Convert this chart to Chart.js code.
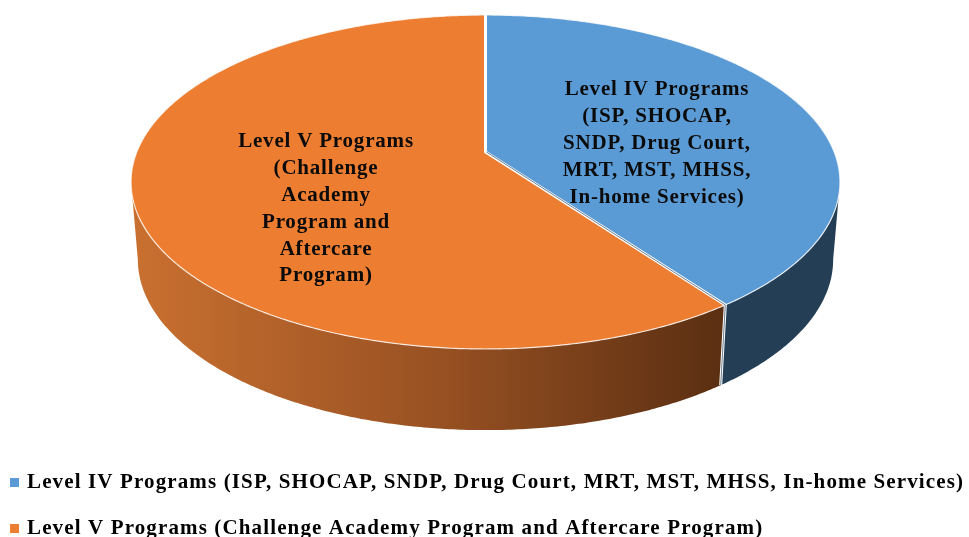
<!DOCTYPE html>
<html>
<head>
<meta charset="utf-8">
<style>html,body{margin:0;padding:0;background:#fff;overflow:hidden}canvas{display:block}</style>
<script src="https://cdn.jsdelivr.net/npm/chart.js@4"></script>
</head>
<body>
<canvas id="c" width="969" height="537"></canvas>
<script>
const categories = [
  "Level IV Programs (ISP, SHOCAP, SNDP, Drug Court, MRT, MST, MHSS, In-home Services)",
  "Level V Programs (Challenge Academy Program and Aftercare Program)"
];
const shares = [40, 60];
const sliceColors = ["#5B9BD5", "#ED7D31"];
const sliceLabels = [
  ["Level IV Programs", "(ISP, SHOCAP,", "SNDP, Drug Court,", "MRT, MST, MHSS,", "In-home Services)"],
  ["Level V Programs", "(Challenge", "Academy", "Program and", "Aftercare", "Program)"]
];

const TOP = {cx: 485.5, cy: 152, rx: 348.7, ry: 161.6};
const BOT = {cx: 485.5, cy: 229, rx: 342, ry: 165};
const K = 0.1796;
const project = (f, a) => {
  const u = Math.cos(a), v = Math.sin(a), w = 1 - K * v;
  return [f.cx + f.rx * u / w, f.cy + f.ry * v / w];
};
const LEGEND_SPACING = '1.13px';
const SIDE = Math.asin(K);

const pie3d = {
  id: 'pie3d',
  beforeLayout(chart) { chart.ctx.letterSpacing = LEGEND_SPACING; },
  beforeDraw(chart) { chart.ctx.letterSpacing = LEGEND_SPACING; },
  afterLayout(chart) {
    const lg = chart.legend;
    const h = lg.bottom - lg.top;
    lg.top = 447; lg.bottom = lg.top + h;
    lg.left -= 12.5;
  },
  beforeDatasetsDraw(chart) {
    const ctx = chart.ctx;
    const arcs = chart.getDatasetMeta(0).data;
    const step = Math.PI / 360;
    // side walls: only the arc facing the viewer, so the outline never folds
    arcs.forEach((arc, i) => {
      let paint;
      if (i === 0) paint = '#243F55';
      else {
        paint = ctx.createLinearGradient(135, 0, 722, 0);
        paint.addColorStop(0, '#C97030');
        paint.addColorStop(0.5, '#9A5223');
        paint.addColorStop(1, '#5B2F12');
      }
      const from = Math.max(arc.startAngle, SIDE);
      const to = Math.min(arc.endAngle, Math.PI - SIDE);
      ctx.fillStyle = paint;
      ctx.beginPath();
      const lower = [];
      for (let a = from; a < to; a += step) {
        const q = project(TOP, a); ctx.lineTo(q[0], q[1]);
        lower.push(project(BOT, a));
      }
      const e1 = project(TOP, to), e2 = project(BOT, to);
      ctx.lineTo(e1[0], e1[1]); ctx.lineTo(e2[0], e2[1]);
      lower.reverse().forEach(q => ctx.lineTo(q[0], q[1]));
      ctx.closePath(); ctx.fill();
    });
    // top faces
    arcs.forEach((arc, i) => {
      ctx.beginPath();
      ctx.moveTo(TOP.cx, TOP.cy);
      for (let a = arc.startAngle; a < arc.endAngle; a += step) {
        const q = project(TOP, a); ctx.lineTo(q[0], q[1]);
      }
      const e = project(TOP, arc.endAngle); ctx.lineTo(e[0], e[1]);
      ctx.closePath();
      ctx.fillStyle = arc.options.backgroundColor; ctx.fill();
    });
    // rim highlight
    ctx.strokeStyle = 'rgba(255,255,255,0.8)'; ctx.lineWidth = 1.2;
    arcs.forEach(arc => {
      ctx.beginPath();
      for (let a = arc.startAngle; a <= arc.endAngle; a += step) {
        const q = project(TOP, a);
        a === arc.startAngle ? ctx.moveTo(q[0], q[1]) : ctx.lineTo(q[0], q[1]);
      }
      ctx.stroke();
    });
    // seams between the slices
    const back = project(TOP, arcs[0].startAngle);
    const front = project(TOP, arcs[0].endAngle);
    const foot = project(BOT, arcs[0].endAngle);
    const seg = (pts, col, w) => {
      ctx.strokeStyle = col; ctx.lineWidth = w; ctx.lineJoin = 'miter';
      ctx.beginPath();
      pts.forEach((q, n) => n ? ctx.lineTo(q[0], q[1]) : ctx.moveTo(q[0], q[1]));
      ctx.stroke();
    };
    seg([back, [TOP.cx, TOP.cy], front, foot], '#ffffff', 3);
    seg([[TOP.cx + 1, TOP.cy], front, foot], '#6f8294', 1);
    ctx.save();
    // slice labels
    const anchors = [[657, 90], [326, 142]];
    ctx.letterSpacing = '0.8px';
    ctx.font = 'bold 21px "Liberation Serif"'; ctx.fillStyle = '#0b0b0b';
    ctx.textAlign = 'center'; ctx.textBaseline = 'middle';
    sliceLabels.forEach((lines, i) => {
      lines.forEach((t, n) => ctx.fillText(t, anchors[i][0], anchors[i][1] + n * 26.8));
    });
    ctx.restore();
    return false;
  }
};

new Chart(document.getElementById('c'), {
  type: 'pie',
  data: {
    labels: categories,
    datasets: [{data: shares, backgroundColor: sliceColors, borderWidth: 0}]
  },
  options: {
    responsive: false,
    animation: false,
    rotation: 0,
    plugins: {
      tooltip: {enabled: false},
      legend: {
        position: 'bottom',
        align: 'start',
        labels: {
          boxWidth: 4, boxHeight: 4, padding: 25,
          color: '#0b0b0b',
          font: {family: '"Liberation Serif"', size: 21, weight: 'bold'},
          generateLabels: chart => chart.data.labels.map((text, index) => ({
            text, index,
            fillStyle: sliceColors[index],
            strokeStyle: sliceColors[index],
            lineWidth: 5
          }))
        }
      }
    }
  },
  plugins: [pie3d]
});
</script>
</body>
</html>
